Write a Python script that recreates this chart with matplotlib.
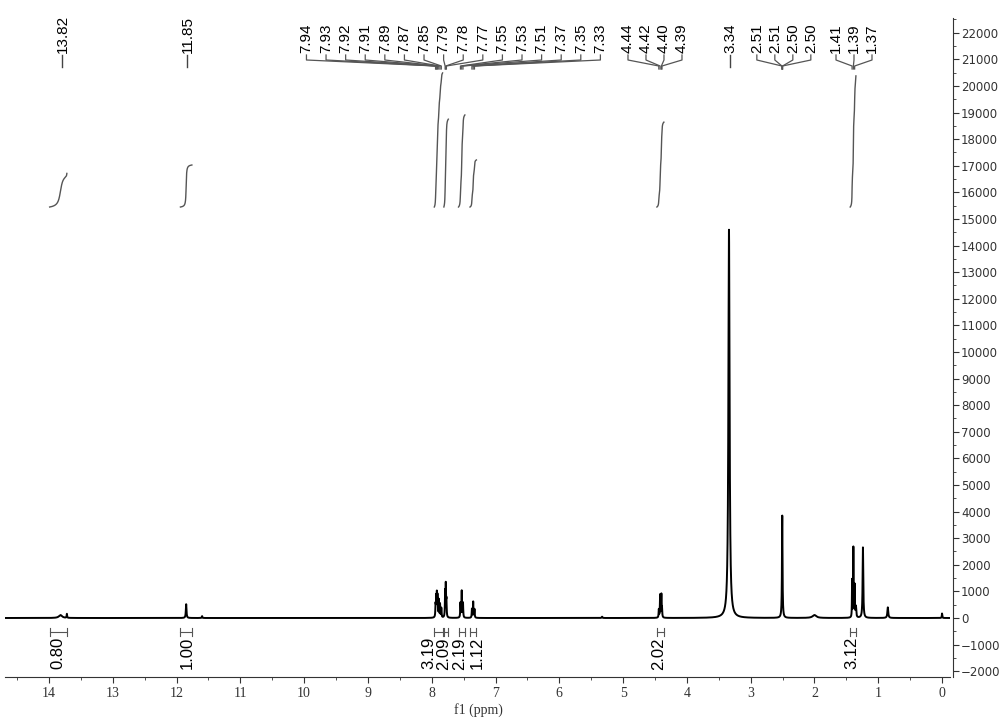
import numpy as np
import matplotlib.pyplot as plt
from matplotlib.transforms import blended_transform_factory
from matplotlib.ticker import MultipleLocator

# peak list: position (ppm), height, half width (ppm)
peak_ppm = [13.82, 13.72, 11.85, 11.60,
            7.94, 7.93, 7.92, 7.91, 7.89, 7.87, 7.85,
            7.79, 7.78, 7.77,
            7.55, 7.53, 7.51,
            7.37, 7.35, 7.33,
            5.33,
            4.44, 4.42, 4.40, 4.39,
            3.34,
            2.505,
            2.00,
            1.41, 1.39, 1.37, 1.35,
            1.24, 0.85, 0.00]
peak_height = [110, 150, 520, 70,
               450, 700, 800, 750, 650, 500, 350,
               900, 1150, 600,
               550, 1000, 550,
               330, 600, 320,
               50,
               300, 850, 850, 300,
               14600,
               3850,
               110,
               1400, 2600, 1200, 400,
               2650, 400, 170]
peak_width = [0.030, 0.004, 0.006, 0.005,
              0.004, 0.004, 0.004, 0.004, 0.004, 0.004, 0.004,
              0.004, 0.004, 0.004,
              0.004, 0.004, 0.004,
              0.004, 0.004, 0.004,
              0.006,
              0.004, 0.004, 0.004, 0.004,
              0.011,
              0.005,
              0.035,
              0.003, 0.003, 0.004, 0.006,
              0.006, 0.008, 0.004]

# peak label groups: labels, centre of the label fan (ppm)
label_groups = [
    (["13.82"], 13.79),
    (["11.85"], 11.83),
    (["7.94", "7.93", "7.92", "7.91", "7.89", "7.87", "7.85", "7.79", "7.78",
      "7.77", "7.55", "7.53", "7.51", "7.37", "7.35", "7.33"], 7.66),
    (["4.44", "4.42", "4.40", "4.39"], 4.50),
    (["3.34"], 3.32),
    (["2.51", "2.51", "2.50", "2.50"], 2.48),
    (["1.41", "1.39", "1.37"], 1.38),
]

# integrals: range start, range end, value, label position (ppm)
int_start = [13.99, 11.94, 7.96, 7.81, 7.58, 7.40, 4.47, 1.44]
int_end = [13.72, 11.76, 7.83, 7.74, 7.48, 7.30, 4.36, 1.35]
int_value = [0.80, 1.00, 3.19, 2.09, 2.19, 1.12, 2.02, 3.12]
int_label_ppm = [13.86, 11.84, 8.05, 7.81, 7.56, 7.29, 4.44, 1.41]

W, H = 1000, 722
px_per_ppm = 63.8

x = np.linspace(14.7, -0.15, 40000)
y = np.zeros_like(x)
for p, h, w in zip(peak_ppm, peak_height, peak_width):
    y += h * w**2 / ((x - p)**2 + w**2)

fig = plt.figure(figsize=(10, 7.22), dpi=100)
ax = fig.add_axes([0.005, 45 / H, 0.945, 659 / H])
ax.plot(x, y, color="black", lw=1.4)
ax.set_xlim(14.69, -0.125)
ax.set_ylim(-2218, 22556)

for s in ["left", "top"]:
    ax.spines[s].set_visible(False)
ax.spines["right"].set_position(("outward", 2))
ax.spines["right"].set_color("#333333")
ax.spines["bottom"].set_color("#333333")
ax.yaxis.tick_right()
ax.yaxis.set_minor_locator(MultipleLocator(500))
ax.xaxis.set_minor_locator(MultipleLocator(0.5))
ax.tick_params(axis="y", which="major", length=4, width=0.8, pad=2,
               labelsize=8.5, colors="#333333")
ax.tick_params(axis="y", which="minor", length=2, width=0.6, colors="#333333")
ax.tick_params(axis="x", which="major", length=4, width=0.8, pad=3,
               labelsize=10, colors="#333333")
ax.tick_params(axis="x", which="minor", length=2, width=0.6, colors="#333333")
ax.set_yticks(np.arange(-2000, 22001, 1000))
ax.set_yticklabels([str(v).replace("-", "\u2212") for v in range(-2000, 22001, 1000)])
ax.set_xticks(np.arange(0, 15))
ax.set_xticklabels([str(v) for v in range(0, 15)], family="Liberation Serif")
for t in ax.get_yticklabels():
    t.set_family("DejaVu Sans")
fig.text(478 / W, 1 - 710 / H, "f1 (ppm)", ha="center", va="center",
         family="Liberation Serif", fontsize=10, color="#333333")

# x in ppm, y in figure pixels (from top)
tr = blended_transform_factory(ax.transData, fig.transFigure)
def fy(py):
    return 1 - py / H

# peak labels with fan connectors
for labels, centre in label_groups:
    n = len(labels)
    step = 19.6 if n > 10 else 18.0
    for i, lab in enumerate(labels):
        lx = centre - (i - (n - 1) / 2) * step / px_per_ppm
        px = float(lab)
        ax.text(lx, fy(53), lab, transform=tr, rotation=90, ha="center",
                va="bottom", fontsize=11, family="Liberation Sans")
        if n == 1:
            ax.plot([lx, lx], [fy(55), fy(67)], transform=tr, color="#444444",
                    lw=1, clip_on=False)
        else:
            ax.plot([lx, lx, px, px], [fy(55), fy(60), fy(66), fy(69)],
                    transform=tr, color="#555555", lw=0.9, clip_on=False)

# integral curves and labels
base = 15450
unit = 1580
for a, b, v, lp in zip(int_start, int_end, int_value, int_label_ppm):
    m = (x <= a) & (x >= b)
    seg = y[m]
    cum = np.cumsum(seg)
    cum = cum / cum[-1]
    ax.plot(x[m], base + cum * v * unit, color="#555555", lw=1)
    ax.plot([a, b], [fy(632), fy(632)], transform=tr, color="#555555", lw=0.8)
    ax.plot([a, a], [fy(628), fy(636)], transform=tr, color="#555555", lw=0.8)
    ax.plot([b, b], [fy(628), fy(636)], transform=tr, color="#555555", lw=0.8)
    ax.text(lp, fy(637), "%.2f" % v, transform=tr, rotation=90, ha="center",
            va="top", fontsize=12, family="Liberation Sans")

plt.savefig("out.png", dpi=100)
